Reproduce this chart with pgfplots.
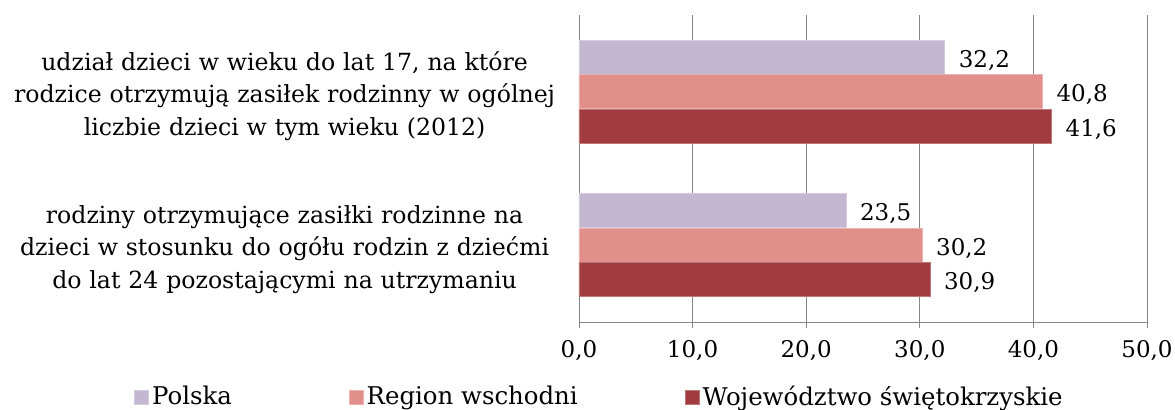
\documentclass[border=0pt]{standalone}
\usepackage{pgfplots}
\pgfplotsset{compat=1.18}
\usepackage{fontspec}
\setmainfont{DejaVu Serif}
\definecolor{cPol}{RGB}{196,183,210}
\definecolor{cReg}{RGB}{226,143,140}
\definecolor{cWoj}{RGB}{160,60,64}
\definecolor{axgray}{RGB}{134,134,134}
\begin{document}
\fontsize{11.5}{16.25}\selectfont
\begin{tikzpicture}
\begin{axis}[
  name=ax,
  scale only axis,
  width=284pt, height=153.5pt,
  xbar, bar width=0.222,
  xmin=0, xmax=50, ymin=-0.5, ymax=1.5,
  xtick={0,10,20,30,40,50},
  ytick={0,1},
  yticklabels={{rodziny otrzymujące zasiłki rodzinne na\\dzieci w stosunku do ogółu rodzin z dziećmi\\do lat 24 pozostającymi na utrzymaniu},
               {udział dzieci w wieku do lat 17, na które\\rodzice otrzymują zasiłek rodzinny w ogólnej\\liczbie dzieci w tym wieku (2012)}},
  yticklabel style={text width=290pt, align=center, inner sep=0pt, xshift=1pt, yshift=-2pt,
    font=\fontsize{11.8}{16.25}\selectfont},
  major y tick style={draw=none},
  extra y ticks={-0.5,0.5,1.5},
  extra y tick labels={},
  extra y tick style={major tick length=3pt, tick align=outside, major tick style={draw=axgray, thin}, grid=none},
  axis x line*=bottom, axis y line*=left,
  axis line style={draw=axgray, thin, -},
  xtick pos=bottom, ytick pos=left,
  tick align=outside, major tick length=3pt,
  x tick style={draw=axgray, thin},
  xmajorgrids, major grid style={draw=axgray, thin},
  /pgf/number format/assume math mode=true,
  xticklabel={\pgfmathprintnumber[fixed,fixed zerofill,precision=1,use comma]{\tick}},
  xticklabel style={yshift=-2pt},
  point meta=x,
  nodes near coords={\pgfmathprintnumber[fixed,fixed zerofill,precision=1,use comma,assume math mode=true]{\pgfplotspointmeta}},
  every node near coord/.append style={anchor=west, xshift=3pt, yshift=-1.5pt, text=black},
  legend columns=3,
  legend style={at={(-0.7835,-0.2443)}, anchor=west, draw=none, inner sep=0pt,
    font=\fontsize{12.2}{14}\selectfont,
    nodes={inner xsep=1.5pt},
    /tikz/column 2/.style={column sep=57pt},
    /tikz/column 4/.style={column sep=52pt}},
  legend cell align=left,
  legend image code/.code={\fill[#1] (0pt,-3.5pt) rectangle (7pt,3.5pt);},
]
\addplot[fill=cPol, draw=cPol!70!white, bar shift=0.225] coordinates {(23.5,0) (32.2,1)};
\addlegendentry{Polska}
\addplot[fill=cReg, draw=cReg!70!white, bar shift=0] coordinates {(30.2,0) (40.8,1)};
\addlegendentry{Region wschodni}
\addplot[fill=cWoj, draw=cWoj!70!white, bar shift=-0.225] coordinates {(30.9,0) (41.6,1)};
\addlegendentry{Województwo świętokrzyskie}
\end{axis}
\pgfresetboundingbox
\path[use as bounding box] ([xshift=-289.5pt,yshift=-44pt]ax.south west) rectangle ([xshift=14pt,yshift=7.5pt]ax.north east);
\end{tikzpicture}
\end{document}
